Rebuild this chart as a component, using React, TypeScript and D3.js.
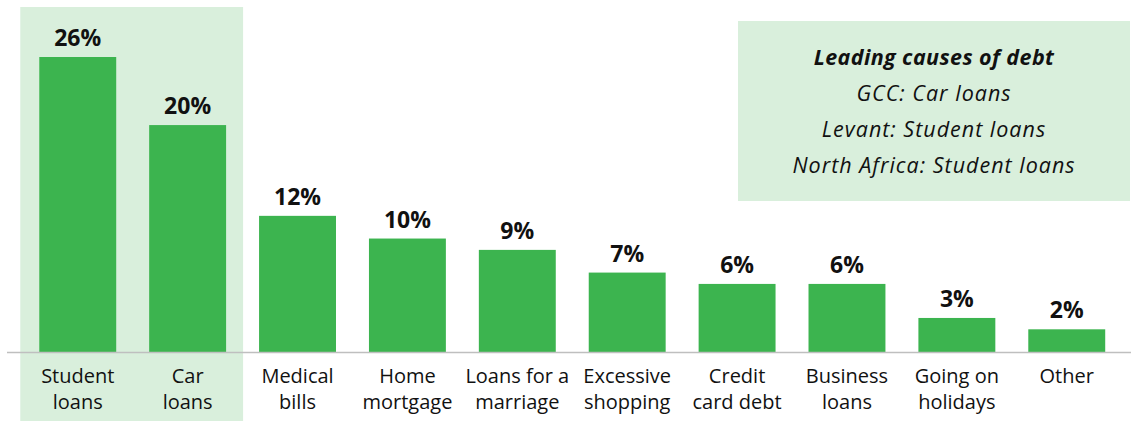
import React from "react";
import * as d3 from "d3";

const categories: string[][] = [
  ["Student", "loans"],
  ["Car", "loans"],
  ["Medical", "bills"],
  ["Home", "mortgage"],
  ["Loans for a", "marriage"],
  ["Excessive", "shopping"],
  ["Credit", "card debt"],
  ["Business", "loans"],
  ["Going on", "holidays"],
  ["Other"],
];
const values: number[] = [26, 20, 12, 10, 9, 7, 6, 6, 3, 2];
const highlighted: number[] = [0, 1];
const legendTitle = "Leading causes of debt";
const legendLines: string[] = [
  "GCC: Car loans",
  "Levant: Student loans",
  "North Africa: Student loans",
];

const W = 1134;
const H = 421;
const FONT = "'Open Sans', sans-serif";
const GREEN = "#3cb44f";
const LIGHT = "#d9efdc";

export default function App() {
  const keys = categories.map((c) => c.join(" "));
  const x = d3
    .scaleBand<string>()
    .domain(keys)
    .range([22.8, 1121.7])
    .paddingInner(0.3)
    .paddingOuter(0.15);
  const y = d3.scaleLinear().domain([0, 26]).range([352, 57]);
  const bw = x.bandwidth();
  const hiX0 = (x(keys[highlighted[0]]) as number) - 19;
  const hiX1 = (x(keys[highlighted[highlighted.length - 1]]) as number) + bw + 17;

  return (
    <svg
      width={W}
      height={H}
      style={{ position: "absolute", left: 0, top: 0, fontFamily: FONT }}
    >
      <rect x={0} y={0} width={W} height={H} fill="#fff" />
      <rect x={hiX0} y={7} width={hiX1 - hiX0} height={H - 7} fill={LIGHT} />
      <rect x={738} y={21} width={392} height={180} fill={LIGHT} />
      <text x={934} y={65} textAnchor="middle" fontSize={21.5} fontStyle="italic" fontWeight="bold" letterSpacing={0.4} fill="#111">
        {legendTitle}
      </text>
      {legendLines.map((l, i) => (
        <text key={l} x={934} y={101 + i * 36} textAnchor="middle" fontSize={21.5} fontStyle="italic" letterSpacing={1} fill="#111">
          {l}
        </text>
      ))}
      {values.map((v, i) => {
        const cx = (x(keys[i]) as number) + bw / 2;
        return (
          <g key={keys[i]}>
            <rect x={x(keys[i])} y={y(v)} width={bw} height={y(0) - y(v)} fill={GREEN} />
            <text x={cx} y={y(v) - 11} textAnchor="middle" fontSize={23} fontWeight="bold" fill="#111">
              {v}%
            </text>
            {categories[i].map((line, j) => (
              <text key={j} x={cx} y={383 + j * 26} textAnchor="middle" fontSize={20} fill="#111">
                {line}
              </text>
            ))}
          </g>
        );
      })}
      <line x1={7} x2={1131} y1={y(0) + 0.5} y2={y(0) + 0.5} stroke="#bfbfbf" strokeWidth={1.5} />
    </svg>
  );
}
